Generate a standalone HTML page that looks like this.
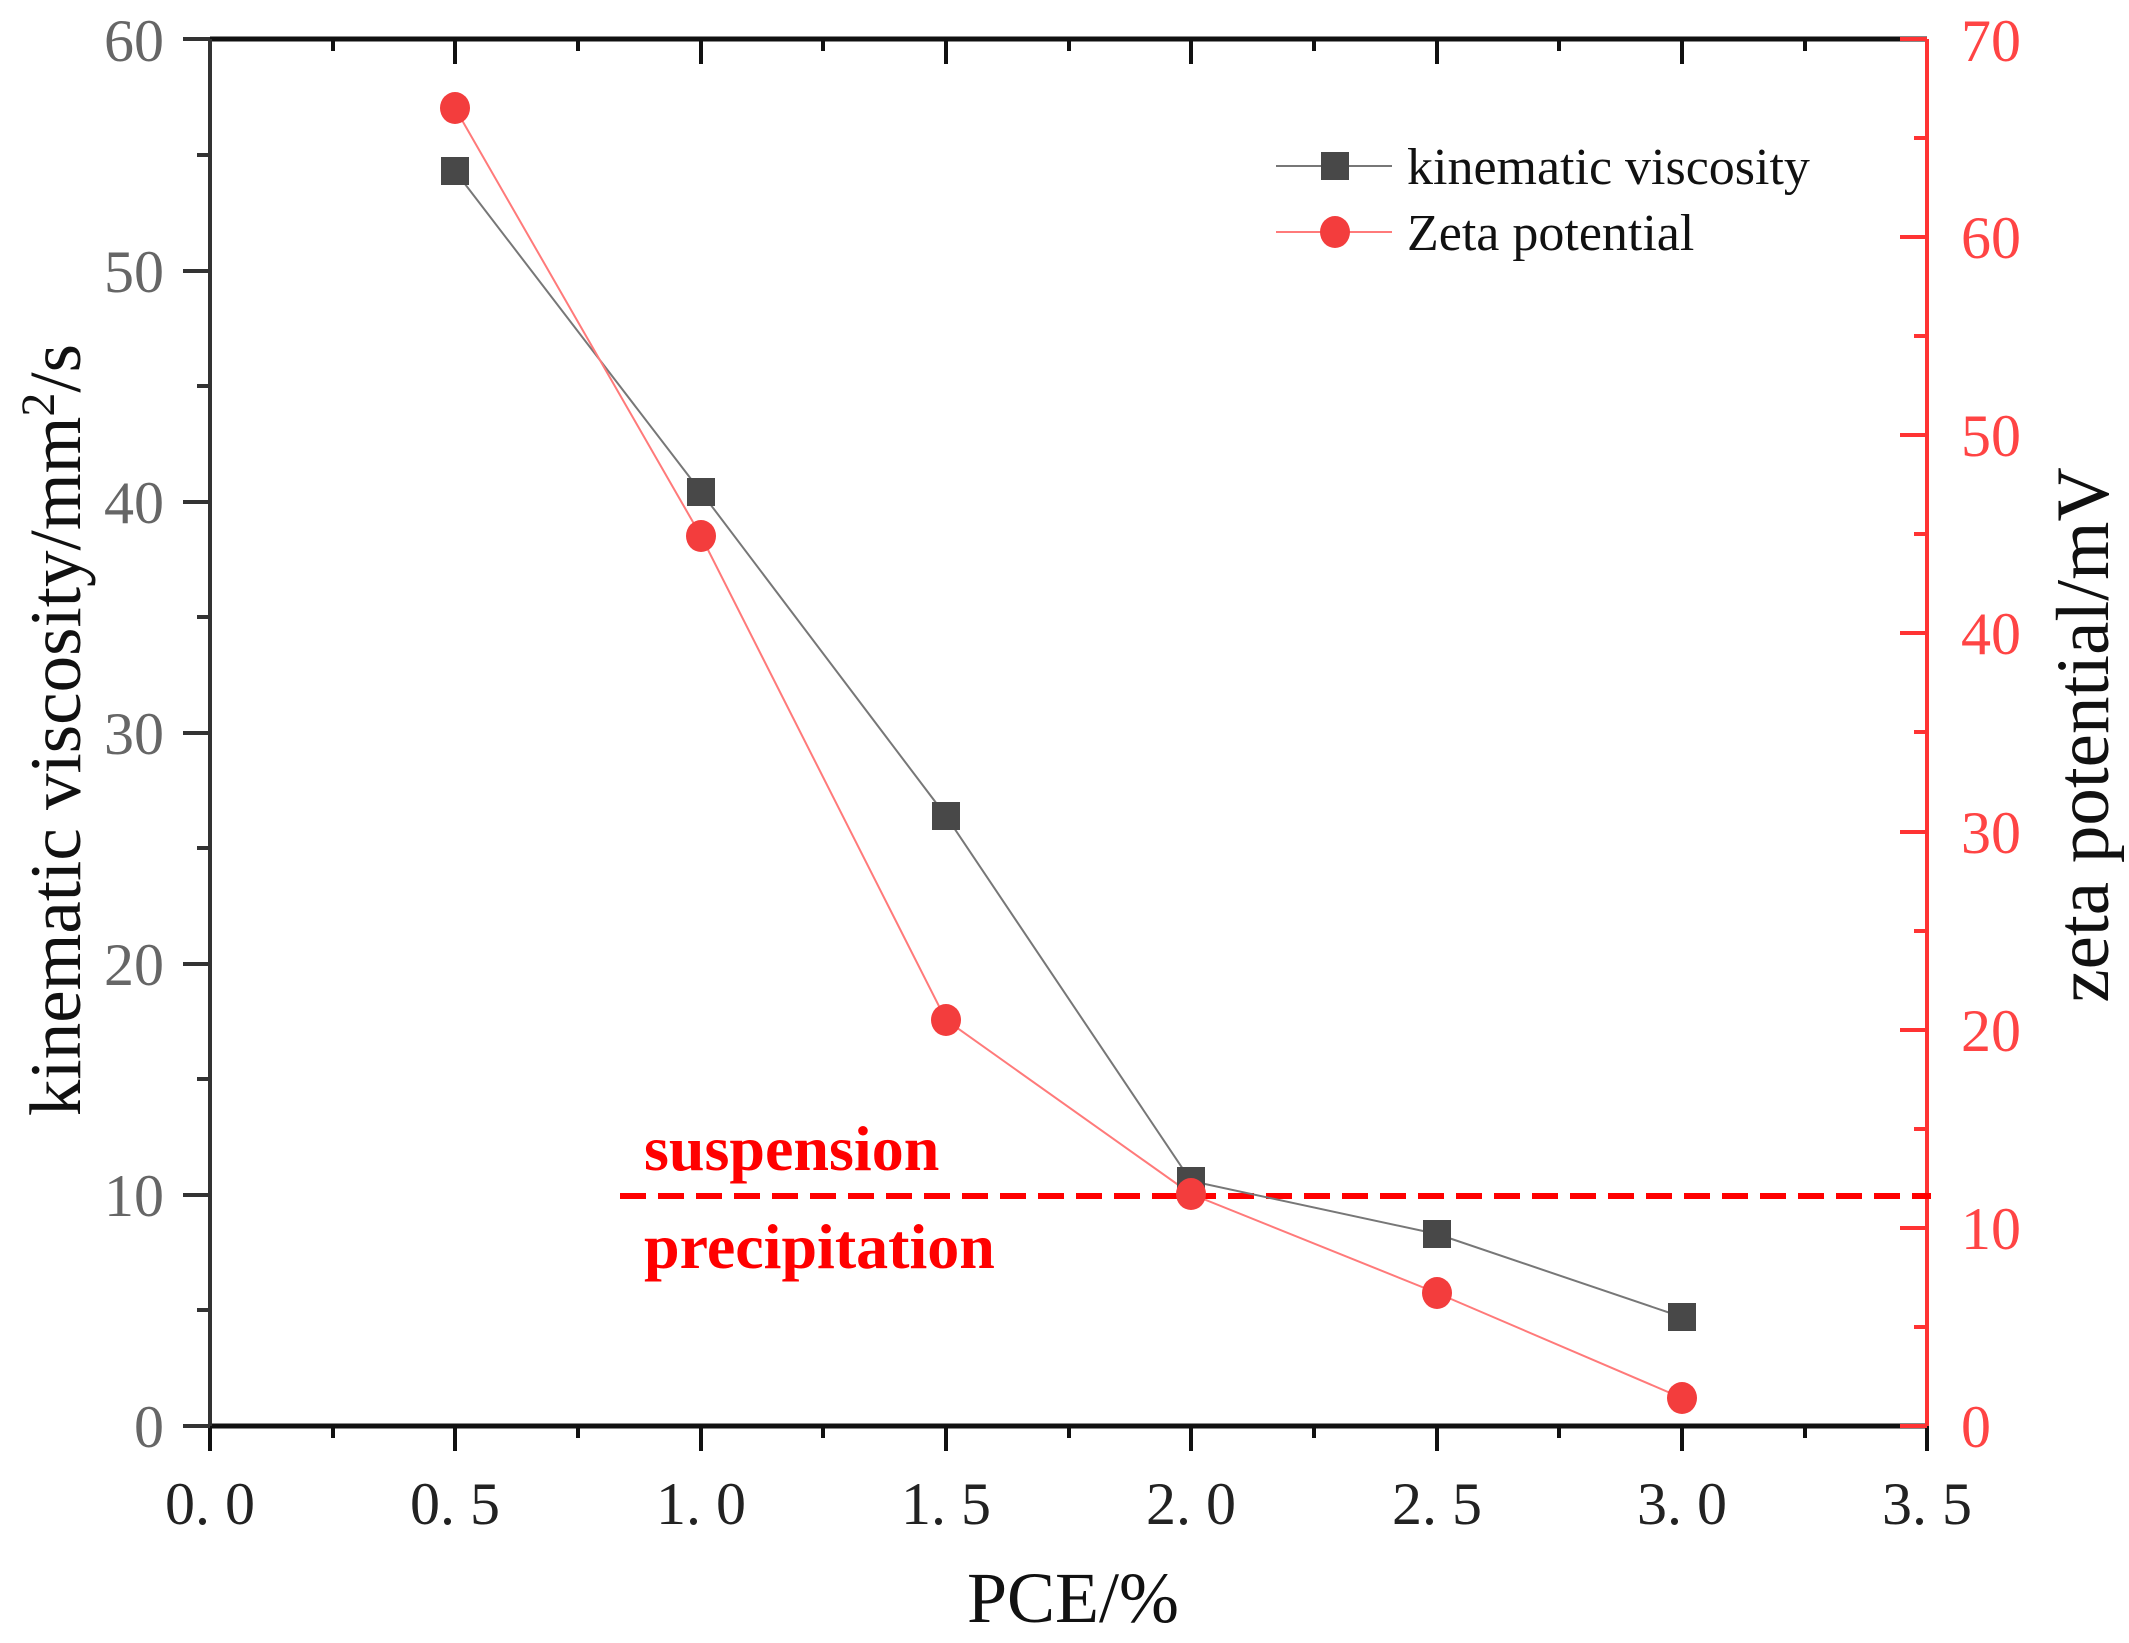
<!DOCTYPE html>
<html><head><style>body{margin:0;background:#fff}svg{display:block}</style></head><body>
<svg width="2129" height="1643" viewBox="0 0 2129 1643" xmlns="http://www.w3.org/2000/svg" font-family="'Liberation Serif','Noto Serif CJK SC',serif">
<rect width="2129" height="1643" fill="#fff"/>
<!-- axes -->
<line x1="210" y1="39" x2="1927" y2="39" stroke="#111" stroke-width="5"/>
<line x1="210" y1="1426" x2="1927" y2="1426" stroke="#111" stroke-width="5"/>
<line x1="210" y1="39" x2="210" y2="1426" stroke="#333" stroke-width="4"/>
<line x1="1927" y1="39" x2="1927" y2="1426" stroke="#f33" stroke-width="4"/>
<g stroke="#111" stroke-width="4">
<line x1="210" y1="1426" x2="210" y2="1451"/><line x1="455" y1="1426" x2="455" y2="1451"/><line x1="701" y1="1426" x2="701" y2="1451"/><line x1="946" y1="1426" x2="946" y2="1451"/><line x1="1191" y1="1426" x2="1191" y2="1451"/><line x1="1437" y1="1426" x2="1437" y2="1451"/><line x1="1682" y1="1426" x2="1682" y2="1451"/><line x1="1927" y1="1426" x2="1927" y2="1451"/>
<line x1="333" y1="1426" x2="333" y2="1438"/><line x1="578" y1="1426" x2="578" y2="1438"/><line x1="823" y1="1426" x2="823" y2="1438"/><line x1="1069" y1="1426" x2="1069" y2="1438"/><line x1="1314" y1="1426" x2="1314" y2="1438"/><line x1="1559" y1="1426" x2="1559" y2="1438"/><line x1="1805" y1="1426" x2="1805" y2="1438"/>
<line x1="455" y1="39" x2="455" y2="64"/><line x1="701" y1="39" x2="701" y2="64"/><line x1="946" y1="39" x2="946" y2="64"/><line x1="1191" y1="39" x2="1191" y2="64"/><line x1="1437" y1="39" x2="1437" y2="64"/><line x1="1682" y1="39" x2="1682" y2="64"/>
<line x1="333" y1="39" x2="333" y2="51"/><line x1="578" y1="39" x2="578" y2="51"/><line x1="823" y1="39" x2="823" y2="51"/><line x1="1069" y1="39" x2="1069" y2="51"/><line x1="1314" y1="39" x2="1314" y2="51"/><line x1="1559" y1="39" x2="1559" y2="51"/><line x1="1805" y1="39" x2="1805" y2="51"/>
</g>
<g stroke="#333" stroke-width="4">
<line x1="183" y1="1426" x2="210" y2="1426"/><line x1="183" y1="1195" x2="210" y2="1195"/><line x1="183" y1="964" x2="210" y2="964"/><line x1="183" y1="733" x2="210" y2="733"/><line x1="183" y1="502" x2="210" y2="502"/><line x1="183" y1="271" x2="210" y2="271"/><line x1="183" y1="39" x2="210" y2="39"/>
<line x1="197" y1="1310" x2="210" y2="1310"/><line x1="197" y1="1079" x2="210" y2="1079"/><line x1="197" y1="848" x2="210" y2="848"/><line x1="197" y1="617" x2="210" y2="617"/><line x1="197" y1="386" x2="210" y2="386"/><line x1="197" y1="155" x2="210" y2="155"/>
</g>
<g stroke="#f33" stroke-width="4">
<line x1="1900" y1="1426" x2="1927" y2="1426"/><line x1="1900" y1="1228" x2="1927" y2="1228"/><line x1="1900" y1="1030" x2="1927" y2="1030"/><line x1="1900" y1="832" x2="1927" y2="832"/><line x1="1900" y1="633" x2="1927" y2="633"/><line x1="1900" y1="435" x2="1927" y2="435"/><line x1="1900" y1="237" x2="1927" y2="237"/><line x1="1900" y1="39" x2="1927" y2="39"/>
<line x1="1914" y1="1327" x2="1927" y2="1327"/><line x1="1914" y1="1129" x2="1927" y2="1129"/><line x1="1914" y1="931" x2="1927" y2="931"/><line x1="1914" y1="732" x2="1927" y2="732"/><line x1="1914" y1="534" x2="1927" y2="534"/><line x1="1914" y1="336" x2="1927" y2="336"/><line x1="1914" y1="138" x2="1927" y2="138"/>
</g>
<!-- tick labels -->
<g font-size="60" fill="#666" text-anchor="end">
<text x="164" y="1447">0</text><text x="164" y="1216">10</text><text x="164" y="985">20</text><text x="164" y="754">30</text><text x="164" y="523">40</text><text x="164" y="292">50</text><text x="164" y="61">60</text>
</g>
<g font-size="60" fill="#f44" text-anchor="start">
<text x="1961" y="1447">0</text><text x="1961" y="1249">10</text><text x="1961" y="1051">20</text><text x="1961" y="853">30</text><text x="1961" y="654">40</text><text x="1961" y="456">50</text><text x="1961" y="258">60</text><text x="1961" y="61">70</text>
</g>
<g font-size="60" fill="#222" text-anchor="middle">
<text x="210" y="1524">0. 0</text><text x="455" y="1524">0. 5</text><text x="701" y="1524">1. 0</text><text x="946" y="1524">1. 5</text><text x="1191" y="1524">2. 0</text><text x="1437" y="1524">2. 5</text><text x="1682" y="1524">3. 0</text><text x="1927" y="1524">3. 5</text>
</g>
<!-- titles -->
<text x="1073" y="1622" font-size="72" text-anchor="middle" fill="#111">PCE/%</text>
<text transform="translate(80,730) rotate(-90)" font-size="73" text-anchor="middle" fill="#111">kinematic viscosity/mm<tspan dy="-26" font-size="48">2</tspan><tspan dy="26">/s</tspan></text>
<text transform="translate(2108,735) rotate(-90)" font-size="75" text-anchor="middle" fill="#111">zeta potential/mV</text>
<!-- dashed line -->
<line x1="620" y1="1196" x2="1931" y2="1196" stroke="#f00" stroke-width="6" stroke-dasharray="26,12"/>
<text x="644" y="1170" font-size="64" font-weight="bold" fill="#f00">suspension</text>
<text x="644" y="1268" font-size="64" font-weight="bold" fill="#f00">precipitation</text>
<!-- series -->
<polyline points="455,171 701,492 946,816 1191,1181 1437,1234 1682,1317" fill="none" stroke="#777" stroke-width="2"/>
<polyline points="455,108 701,536 946,1020 1191,1194 1437,1293 1682,1398" fill="none" stroke="#ff7a7a" stroke-width="2"/>
<g fill="#484848">
<rect x="441" y="157" width="28" height="28"/><rect x="687" y="478" width="28" height="28"/><rect x="932" y="802" width="28" height="28"/><rect x="1177" y="1167" width="28" height="28"/><rect x="1423" y="1220" width="28" height="28"/><rect x="1668" y="1303" width="28" height="28"/>
</g>
<g fill="#f33d3d">
<ellipse cx="455" cy="108" rx="15" ry="16"/><ellipse cx="701" cy="536" rx="15" ry="16"/><ellipse cx="946" cy="1020" rx="15" ry="16"/><ellipse cx="1191" cy="1194" rx="15" ry="16"/><ellipse cx="1437" cy="1293" rx="15" ry="16"/><ellipse cx="1682" cy="1398" rx="15" ry="16"/>
</g>
<!-- legend -->
<line x1="1276" y1="166" x2="1392" y2="166" stroke="#777" stroke-width="2"/>
<rect x="1321" y="152" width="28" height="28" fill="#484848"/>
<text x="1407" y="184" font-size="52" fill="#111">kinematic viscosity</text>
<line x1="1276" y1="232" x2="1392" y2="232" stroke="#ff7a7a" stroke-width="2"/>
<ellipse cx="1335" cy="232" rx="15" ry="16" fill="#f33d3d"/>
<text x="1407" y="250" font-size="52" fill="#111">Zeta potential</text>
</svg>
</body></html>
